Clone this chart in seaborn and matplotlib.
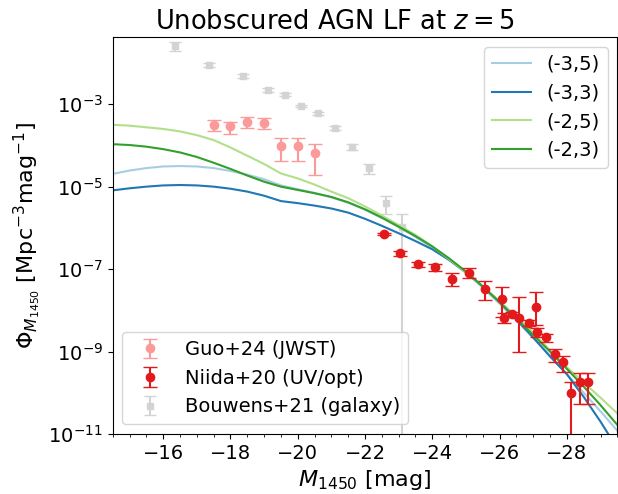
import numpy as np
import pandas as pd
import matplotlib
matplotlib.use("Agg")
import matplotlib.pyplot as plt
import seaborn as sns

# ---------------- model curves (log10 Phi) ----------------
M_model = [-14.5, -15.0, -15.5, -16.0, -16.5, -17.0, -17.5, -18.0, -18.5, -19.0,
           -19.5, -20.0, -20.5, -21.0, -21.5, -22.0, -22.5, -23.0, -23.5, -24.0,
           -24.5, -25.0, -25.5, -26.0, -26.5, -27.0, -27.5, -28.0, -28.5, -29.0, -29.5]
logphi_m3_5 = [-4.69, -4.61, -4.55, -4.51, -4.50, -4.51, -4.55, -4.62, -4.71, -4.82,
               -4.97, -5.06, -5.15, -5.26, -5.39, -5.56, -5.76, -5.98, -6.22, -6.48,
               -6.77, -7.09, -7.45, -7.84, -8.25, -8.67, -9.10, -9.55, -10.00, -10.45, -10.92]
logphi_m3_3 = [-5.09, -5.04, -5.00, -4.97, -4.96, -4.97, -5.00, -5.05, -5.12, -5.22,
               -5.35, -5.40, -5.46, -5.53, -5.63, -5.78, -5.95, -6.13, -6.32, -6.52,
               -6.78, -7.08, -7.42, -7.80, -8.22, -8.66, -9.12, -9.55, -10.10, -10.70, -11.35]
logphi_m2_5 = [-3.50, -3.52, -3.56, -3.60, -3.66, -3.75, -3.87, -4.05, -4.25, -4.45,
               -4.68, -4.80, -4.95, -5.12, -5.28, -5.48, -5.70, -5.93, -6.17, -6.45,
               -6.76, -7.08, -7.42, -7.78, -8.15, -8.55, -8.97, -9.38, -9.75, -10.12, -10.50]
logphi_m2_3 = [-3.97, -3.99, -4.03, -4.09, -4.17, -4.28, -4.42, -4.57, -4.73, -4.88,
               -5.00, -5.08, -5.16, -5.25, -5.38, -5.55, -5.75, -5.97, -6.20, -6.45,
               -6.74, -7.06, -7.42, -7.80, -8.20, -8.60, -9.00, -9.42, -9.85, -10.30, -10.78]
model_labels = ["(-3,5)", "(-3,3)", "(-2,5)", "(-2,3)"]

# ---------------- Guo+24 (JWST) ----------------
guo_M = [-17.5, -18.0, -18.5, -19.0, -19.5, -20.0, -20.5]
guo_phi = [3.2e-4, 2.9e-4, 3.8e-4, 3.5e-4, 9.8e-5, 9.8e-5, 6.5e-5]
guo_up = [1.0e-4, 0.9e-4, 1.1e-4, 1.1e-4, 5.2e-5, 5.2e-5, 4.5e-5]
guo_lo = [1.0e-4, 1.0e-4, 1.1e-4, 1.0e-4, 5.5e-5, 5.5e-5, 4.55e-5]

# ---------------- Niida+20 (UV/opt) ----------------
niida_M = [-22.57, -23.05, -23.58, -24.07, -24.58, -25.08, -25.57, -26.06, -26.12, -26.37,
           -26.58, -26.87, -27.07, -27.11, -27.39, -27.64, -27.88, -28.13, -28.38, -28.63]
niida_phi = [7.1e-7, 2.4e-7, 1.3e-7, 1.1e-7, 5.6e-8, 7.9e-8, 3.2e-8, 1.9e-8, 6.6e-9, 8.1e-9,
             6.5e-9, 5.0e-9, 1.2e-8, 2.9e-9, 2.2e-9, 8.7e-10, 5.6e-10, 9.7e-11, 1.85e-10, 1.85e-10]
niida_up = [0.5e-7, 0.3e-7, 0.2e-7, 0.2e-7, 2.3e-8, 2.6e-8, 2.0e-8, 1.7e-8, 1.9e-9, 1.0e-9,
            1.45e-8, 0.8e-9, 1.6e-8, 0.8e-9, 0.5e-9, 2.8e-10, 2.2e-10, 8.8e-11, 1.25e-10, 1.25e-10]
niida_lo = [0.5e-7, 0.3e-7, 0.2e-7, 0.2e-7, 1.8e-8, 1.9e-8, 1.4e-8, 1.2e-8, 1.7e-9, 1.0e-9,
            5.5e-9, 0.8e-9, 7.5e-9, 0.6e-9, 0.5e-9, 3.1e-10, 2.4e-10, 9.7e-11, 1.33e-10, 1.33e-10]

# ---------------- Bouwens+21 (galaxy) ----------------
bouw_M = [-16.36, -17.36, -18.36, -19.11, -19.61, -20.11, -20.61, -21.11, -21.61, -22.11, -22.61, -23.11]
bouw_phi = [2.6e-2, 9.1e-3, 4.9e-3, 2.2e-3, 1.7e-3, 9.1e-4, 6.0e-4, 2.7e-4, 9.3e-5, 2.8e-5, 4.1e-6, 1.07e-6]
bouw_err = [7e-3, 1.0e-3, 5e-4, 2.5e-4, 1.5e-4, 7e-5, 5e-5, 3e-5, 1.5e-5, 0.8e-5, 1.9e-6, 1.1e-6]

# ---------------- plotting ----------------
pal = sns.color_palette("Paired")
model_colors = dict(zip(model_labels, [pal[0], pal[1], pal[2], pal[3]]))

rows = []
for lab, arr in zip(model_labels, [logphi_m3_5, logphi_m3_3, logphi_m2_5, logphi_m2_3]):
    for m, lp in zip(M_model, arr):
        rows.append({"M": m, "phi": 10.0 ** lp, "model": lab})
df = pd.DataFrame(rows)

plt.rcParams["font.size"] = 14
fig, ax = plt.subplots(figsize=(6.18, 4.94), dpi=100)
fig.subplots_adjust(left=0.1824, right=0.9989, bottom=0.1215, top=0.9245)

sns.lineplot(data=df, x="M", y="phi", hue="model", hue_order=model_labels,
             palette=model_colors, estimator=None, sort=False, lw=1.5, ax=ax, zorder=2)
ax.set_yscale("log")

e_b = ax.errorbar(bouw_M, bouw_phi, yerr=bouw_err, fmt="s", color="lightgray", ms=5,
                  capsize=4, elinewidth=1.5, zorder=1)
e_g = ax.errorbar(guo_M, guo_phi, yerr=[guo_lo, guo_up], fmt="o", color=pal[4], ms=6,
                  capsize=5, elinewidth=1.5, zorder=3)
e_n = ax.errorbar(niida_M, niida_phi, yerr=[niida_lo, niida_up], fmt="o", color=pal[5], ms=6,
                  capsize=5, elinewidth=1.5, zorder=3)

ax.set_xlim(-14.5, -29.5)
ax.set_ylim(1e-11, 4.2e-2)
ax.xaxis.set_minor_locator(matplotlib.ticker.MultipleLocator(0.5))
ax.tick_params(labelsize=14)

ax.set_xlabel(r"$M_{1450}$ [mag]", fontsize=16)
ax.set_ylabel(r"$\Phi_{M_{1450}}$ [Mpc$^{-3}$mag$^{-1}$]", fontsize=16)
ax.set_title(r"Unobscured AGN LF at $z=5$", fontsize=18.5, x=0.44)

h, l = ax.get_legend_handles_labels()
lh = [hh for hh, ll in zip(h, l) if ll in model_labels]
ll_ = [ll for ll in l if ll in model_labels]
leg1 = ax.legend(lh, ll_, loc="upper right", fontsize=14)
ax.add_artist(leg1)
ax.legend([e_g, e_n, e_b], ["Guo+24 (JWST)", "Niida+20 (UV/opt)", "Bouwens+21 (galaxy)"],
          loc="lower left", fontsize=14)

fig.savefig("out.png", dpi=100)
